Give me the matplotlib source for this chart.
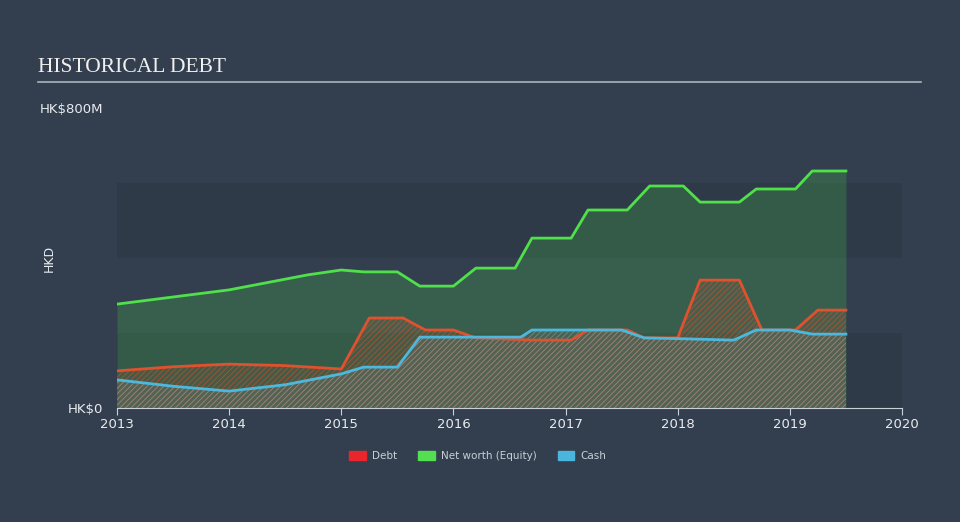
import matplotlib.pyplot as plt
import matplotlib.patches as mpatches

# data (HK$ millions)
nw_x = [2013.0, 2014.0, 2014.7, 2015.0, 2015.2, 2015.5, 2015.7, 2016.0, 2016.2, 2016.55,
        2016.7, 2017.05, 2017.2, 2017.55, 2017.75, 2018.05, 2018.2, 2018.55, 2018.7,
        2019.05, 2019.2, 2019.5]
nw_y = [277, 315, 355, 368, 363, 363, 325, 325, 373, 373,
        453, 453, 528, 528, 592, 592, 549, 549, 584,
        584, 632, 632]

debt_x = [2013.0, 2013.5, 2014.0, 2014.5, 2015.0, 2015.25, 2015.55, 2015.75, 2016.0, 2016.2,
          2016.7, 2017.05, 2017.2, 2017.55, 2017.7, 2018.0, 2018.2, 2018.55, 2018.75,
          2019.05, 2019.25, 2019.5]
debt_y = [99, 110, 117, 113, 104, 240, 240, 208, 208, 187,
          181, 181, 208, 208, 187, 187, 341, 341, 208,
          208, 261, 261]

cash_x = [2013.0, 2013.5, 2014.0, 2014.5, 2015.0, 2015.2, 2015.5, 2015.7, 2016.3, 2016.6,
          2016.7, 2017.5, 2017.7, 2018.0, 2018.5, 2018.7, 2019.0, 2019.2, 2019.5]
cash_y = [75, 58, 45, 62, 91, 109, 109, 189, 189, 189,
          208, 208, 187, 185, 181, 208, 208, 197, 197]

years = [2013, 2014, 2015, 2016, 2017, 2018, 2019, 2020]

bg = '#333f4f'
c_nw = '#4fe04a'
c_debt = '#e0512e'
c_cash = '#4cb8dd'

plt.rcParams['hatch.linewidth'] = 0.6

fig = plt.figure(figsize=(9.6, 5.22), dpi=100, facecolor=bg)
ax = fig.add_axes([117 / 960, 114 / 522, 785 / 960, 300 / 522])
ax.set_facecolor(bg)
ax.set_xlim(2013, 2020)
ax.set_ylim(0, 800)

# background bands
for lo in (0, 400):
    ax.axhspan(lo, lo + 200, color='#2e3a48', zorder=0, lw=0)

# net worth
ax.fill_between(nw_x, 0, nw_y, color=c_nw, alpha=0.2, lw=0, zorder=1)
ax.plot(nw_x, nw_y, color=c_nw, lw=2, zorder=5)

# debt
ax.fill_between(debt_x, 0, debt_y, facecolor=(0.88, 0.32, 0.18, 0.12),
                edgecolor=(0.88, 0.32, 0.18, 0.6), hatch='//////', lw=0, zorder=2)
ax.plot(debt_x, debt_y, color=c_debt, lw=2, zorder=5)

# cash
ax.fill_between(cash_x, 0, cash_y, facecolor=(0.45, 0.5, 0.5, 0.25),
                edgecolor=(0.6, 0.62, 0.6, 0.6), hatch='//////', lw=0, zorder=3)
ax.plot(cash_x, cash_y, color=c_cash, lw=2, zorder=5)

for s in ('top', 'right', 'left'):
    ax.spines[s].set_visible(False)
ax.spines['bottom'].set_color('#c8d0d8')
ax.set_xticks(years)
ax.set_xticklabels([str(y) for y in years])
ax.tick_params(axis='x', colors='#c8d0d8', labelcolor='#e8ecf0', labelsize=9.5,
               length=5, pad=2)
ax.set_yticks([0, 800])
ax.set_yticklabels(['HK$0', 'HK$800M'])
ax.tick_params(axis='y', length=0, labelcolor='#e8ecf0', labelsize=9.5, pad=10)
ax.set_ylabel('HKD', color='#e8ecf0', fontsize=9)
ax.yaxis.set_label_coords(-0.078, 0.5)

# title and rule
fig.text(38 / 960, 1 - 68 / 522, 'HISTORICAL DEBT', color='#f0f0f0',
         fontsize=15.5, family='Liberation Serif', va='center')
fig.add_artist(plt.Line2D([38 / 960, 921 / 960], [1 - 82 / 522, 1 - 82 / 522],
                          color='#aab4bc', lw=1.2))

handles = [mpatches.Patch(color='#e8262b', label='Debt'),
           mpatches.Patch(color='#52e052', label='Net worth (Equity)'),
           mpatches.Patch(color='#4ab6dd', label='Cash')]
leg = fig.legend(handles=handles, loc='center', bbox_to_anchor=(478 / 960, 1 - 456 / 522),
                 ncol=3, frameon=False, fontsize=7.5, handlelength=1.6, handleheight=1.0,
                 columnspacing=2.0, handletextpad=0.6)
for t in leg.get_texts():
    t.set_color('#c8d0d8')

fig.savefig('out.png', dpi=100, facecolor=bg)
